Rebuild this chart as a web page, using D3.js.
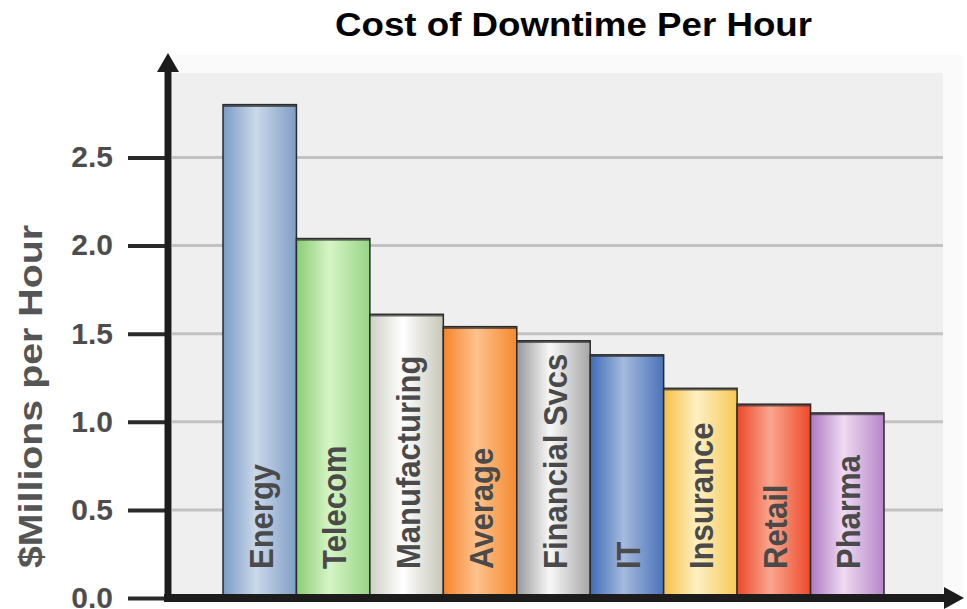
<!DOCTYPE html>
<html>
<head>
<meta charset="utf-8">
<script src="https://cdn.jsdelivr.net/npm/d3@7"></script>
<style>
  html, body { margin: 0; padding: 0; background: #ffffff; }
  svg { display: block; font-family: "Liberation Sans", Arial, Helvetica, sans-serif; }
</style>
</head>
<body>
<svg id="chart" width="967" height="609"></svg>
<script>
// ---- data ----
const categories = ["Energy", "Telecom", "Manufacturing", "Average", "Financial Svcs", "IT", "Insurance", "Retail", "Pharma"];
const values = [2.8, 2.04, 1.61, 1.54, 1.46, 1.38, 1.19, 1.1, 1.05];
const tickValues = [0.0, 0.5, 1.0, 1.5, 2.0, 2.5];
const tickLabels = ["0.0", "0.5", "1.0", "1.5", "2.0", "2.5"];
const titleText = "Cost of Downtime Per Hour";
const yAxisTitle = "$Millions per Hour";

// ---- styles (edge, highlight, edge) ----
const palette = [
  ["#7b9bc6", "#cbd9ea", "#7f9dc5"],
  ["#8bcd74", "#d6f5c6", "#97d486"],
  ["#cfcfc6", "#ffffff", "#c6c6b8"],
  ["#f6852a", "#fdc28e", "#f5892d"],
  ["#999999", "#f8f8f8", "#a6a6a6"],
  ["#3e6db6", "#a5badd", "#4a73b8"],
  ["#f4c047", "#fdf0c2", "#f6c954"],
  ["#ec4829", "#f9a68f", "#ee4a2a"],
  ["#ad79c2", "#efdaf3", "#b686c7"]
];

const svg = d3.select("#chart");

const x = d3.scaleBand().domain(categories).range([223, 884]).padding(0);
const y = d3.scaleLinear().domain([0, 2.5]).range([598, 157.5]);

const defs = svg.append("defs");
palette.forEach((p, i) => {
  const g = defs.append("linearGradient").attr("id", "g" + i)
    .attr("x1", "0").attr("x2", "1").attr("y1", "0").attr("y2", "0");
  g.append("stop").attr("offset", "0%").attr("stop-color", p[0]);
  g.append("stop").attr("offset", "45%").attr("stop-color", p[1]);
  g.append("stop").attr("offset", "100%").attr("stop-color", p[2]);
});

// background panels
svg.append("rect").attr("x", 172).attr("y", 55).attr("width", 791).attr("height", 543).attr("fill", "#fafafa");
svg.append("rect").attr("x", 172).attr("y", 73).attr("width", 771).attr("height", 525).attr("fill", "#efefef");

// grid lines
svg.append("g").selectAll("line").data(tickValues.filter(v => v > 0)).join("line")
  .attr("x1", 172).attr("x2", 943)
  .attr("y1", d => y(d)).attr("y2", d => y(d))
  .attr("stroke", "#c2c2c2").attr("stroke-width", 3);

// bars
const bars = svg.append("g");
bars.selectAll("rect").data(values).join("rect")
  .attr("x", (d, i) => x(categories[i]))
  .attr("y", d => y(d))
  .attr("width", x.bandwidth())
  .attr("height", d => y(0) - y(d))
  .attr("fill", (d, i) => `url(#g${i})`)
  .attr("stroke", "#2a2a2a").attr("stroke-width", 1.5);
// darker top edge
bars.selectAll("line").data(values).join("line")
  .attr("x1", (d, i) => x(categories[i]))
  .attr("x2", (d, i) => x(categories[i]) + x.bandwidth())
  .attr("y1", d => y(d) + 1).attr("y2", d => y(d) + 1)
  .attr("stroke", "#333").attr("stroke-opacity", 0.7).attr("stroke-width", 2.5);

// bar labels
bars.selectAll("text").data(categories).join("text")
  .attr("transform", d => `translate(${x(d) + x.bandwidth() / 2 + 1},569) rotate(-90) scale(1,1.08)`)
  .attr("dy", "0.36em")
  .attr("text-anchor", "start")
  .attr("font-size", 31).attr("font-weight", "bold")
  .attr("fill", "#4a4a4a")
  .text(d => d);

// y axis with ticks
const yAxis = d3.axisLeft(y).tickValues(tickValues).tickFormat((d, i) => tickLabels[i]).tickSize(40).tickPadding(15);
const ag = svg.append("g").attr("transform", "translate(168,0)").call(yAxis);
ag.select(".domain").remove();
ag.selectAll(".tick line").attr("stroke", "#2a2a2a").attr("stroke-width", 4);
ag.selectAll(".tick text").attr("font-size", 30).attr("font-weight", "bold").attr("fill", "#4d4d4d")
  .attr("font-family", "'Liberation Sans', Arial, sans-serif").attr("dy", "0.31em");

// axis lines with arrows
svg.append("line").attr("x1", 168).attr("x2", 168).attr("y1", 602).attr("y2", 70)
  .attr("stroke", "#1c1c1c").attr("stroke-width", 7);
svg.append("path").attr("d", "M157,72 L168,53 L179,72 Z").attr("fill", "#1c1c1c");
svg.append("line").attr("x1", 164).attr("x2", 946).attr("y1", 598).attr("y2", 598)
  .attr("stroke", "#1c1c1c").attr("stroke-width", 8);
svg.append("path").attr("d", "M944,587 L964,598 L944,609 Z").attr("fill", "#1c1c1c");

// title
svg.append("text").attr("x", 335).attr("y", 36)
  .attr("font-size", 33).attr("font-weight", "bold").attr("fill", "#000")
  .attr("textLength", 477).attr("lengthAdjust", "spacingAndGlyphs")
  .text(titleText);

// y axis title
svg.append("text").attr("transform", "translate(42,568) rotate(-90)")
  .attr("font-size", 33).attr("font-weight", "bold").attr("fill", "#555")
  .attr("textLength", 343).attr("lengthAdjust", "spacingAndGlyphs")
  .text(yAxisTitle);
</script>
</body>
</html>
